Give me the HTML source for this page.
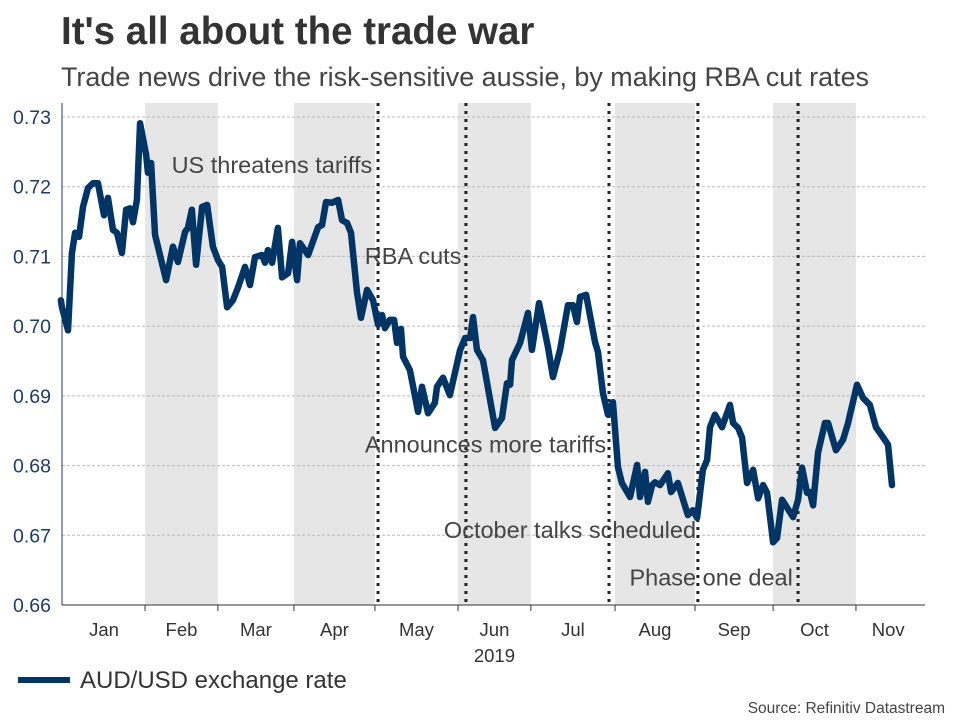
<!DOCTYPE html>
<html><head><meta charset="utf-8"><style>
body{margin:0;background:#fff;font-family:"Liberation Sans",sans-serif;}
svg text{font-family:"Liberation Sans",sans-serif;}
</style></head><body>
<svg id="chart" width="960" height="720" viewBox="0 0 960 720">
<rect width="960" height="720" fill="#fff"/>
<text x="61" y="44" font-size="38.5" font-weight="bold" fill="#333">It's all about the trade war</text>
<text x="61" y="86" font-size="26.5" fill="#444" textLength="808" lengthAdjust="spacingAndGlyphs">Trade news drive the risk-sensitive aussie, by making RBA cut rates</text>
<g id="bands"></g><g id="grid"></g><g id="events"></g><g id="series"></g><g id="axes"></g><g id="notes"></g>
<line x1="18" y1="680" x2="70" y2="680" stroke="#003566" stroke-width="6"/>
<text x="80" y="688" font-size="24" fill="#333">AUD/USD exchange rate</text>
<text x="945" y="713" font-size="15.5" fill="#444" text-anchor="end">Source: Refinitiv Datastream</text>
</svg>
<script>
const days=[-0.8,-0.4,1.9,3.4,4.6,6.1,7.6,9.5,11.4,13.3,15.6,17.1,19.0,20.5,22.4,24.0,25.5,26.6,28.1,29.3,31.6,32.3,33.5,35.0,39.2,41.8,43.7,46.4,47.5,49.0,50.6,52.9,54.8,57.0,58.9,60.5,62.4,64.6,66.5,69.2,71.1,73.0,75.7,76.8,77.9,79.5,81.7,83.3,85.6,87.1,89.0,90.1,93.2,97.0,98.5,100.0,102.3,104.6,106.1,108.0,109.5,111.8,113.3,115.6,117.9,119.8,121.3,122.4,124.3,125.9,127.0,128.5,129.3,131.9,135.0,136.5,138.8,141.4,142.2,144.5,147.1,151.0,152.9,154.8,155.9,157.4,159.7,164.3,166.9,168.8,170.0,170.7,173.8,176.8,178.3,181.0,184.4,186.3,189.0,192.0,193.9,195.4,196.6,198.9,202.3,203.4,205.3,207.2,209.1,211.0,212.5,215.6,218.3,219.4,221.3,222.4,224.0,225.1,227.0,230.0,231.2,233.8,237.6,239.5,241.1,243.3,244.9,246.0,247.9,250.6,253.6,254.8,256.7,258.2,260.1,262.4,264.3,266.2,267.7,270.0,271.5,273.4,277.6,279.5,281.0,282.9,284.0,285.2,287.1,289.7,290.9,293.9,296.6,298.5,301.9,304.2,306.8,309.1,310.6,313.7,315.2];
const rates=[0.7037,0.7027,0.6994,0.7105,0.7134,0.7128,0.7171,0.7198,0.7205,0.7205,0.7159,0.7184,0.7138,0.7134,0.7105,0.7167,0.7169,0.7149,0.7181,0.7291,0.7246,0.7220,0.7234,0.7131,0.7066,0.7114,0.7092,0.7135,0.7141,0.7167,0.7088,0.7171,0.7174,0.7114,0.7095,0.7085,0.7027,0.7037,0.7055,0.7085,0.7059,0.7099,0.7102,0.7091,0.7109,0.7091,0.7141,0.7070,0.7076,0.7121,0.7066,0.7119,0.7102,0.7142,0.7145,0.7178,0.7177,0.7181,0.7152,0.7148,0.7134,0.7048,0.7012,0.7052,0.7037,0.7002,0.7016,0.6997,0.7009,0.7009,0.6976,0.6996,0.6956,0.6937,0.6877,0.6913,0.6875,0.6890,0.6913,0.6926,0.6901,0.6966,0.6983,0.6983,0.7013,0.6966,0.6951,0.6854,0.6868,0.6918,0.6916,0.6951,0.6976,0.7019,0.6966,0.7033,0.6970,0.6927,0.6966,0.7030,0.7030,0.7006,0.7042,0.7045,0.6977,0.6963,0.6904,0.6873,0.6891,0.6798,0.6775,0.6755,0.6801,0.6755,0.6791,0.6748,0.6772,0.6776,0.6772,0.6789,0.6762,0.6775,0.6729,0.6736,0.6725,0.6794,0.6808,0.6855,0.6873,0.6855,0.6887,0.6861,0.6854,0.6840,0.6775,0.6794,0.6753,0.6772,0.6761,0.6690,0.6696,0.6751,0.6726,0.6751,0.6797,0.6761,0.6762,0.6743,0.6819,0.6861,0.6861,0.6822,0.6837,0.6861,0.6916,0.6897,0.6887,0.6855,0.6847,0.6830,0.6772];
const monthStarts=[0,31.2,58.9,87.8,118.6,150.2,177.9,209.9,240.3,270,301.5];
const monthLabels=["Jan","Feb","Mar","Apr","May","Jun","Jul","Aug","Sep","Oct","Nov"];
const monthEndLast=326;
const yTicks=[0.66,0.67,0.68,0.69,0.70,0.71,0.72,0.73];
const yTickLabels=["0.66","0.67","0.68","0.69","0.70","0.71","0.72","0.73"];
const eventDays=[119.8,153.2,207.6,241.4,279.5];
const noteDays=[117.6,151.5,206.5,240.7,277.5];
const noteRates=[0.7220,0.7089,0.6819,0.6696,0.6628];
const noteTexts=["US threatens tariffs","RBA cuts","Announces more tariffs","October talks scheduled","Phase one deal"];

const NS="http://www.w3.org/2000/svg";
const X0=63,PX=2.63,XR=925,YT=117,YB=605;
const xs=d=>X0+d*PX;
const ys=v=>YT+(0.73-v)/(0.07)*(YB-YT);
function mk(tag,attrs,parent){const e=document.createElementNS(NS,tag);for(const k in attrs)e.setAttribute(k,attrs[k]);document.getElementById(parent).appendChild(e);return e;}

for(let i=1;i<monthStarts.length;i+=2){
  const end=i+1<monthStarts.length?monthStarts[i+1]:monthEndLast;
  const r=mk('rect',{x:xs(monthStarts[i]),y:103,width:xs(end)-xs(monthStarts[i]),height:YB-103,fill:'#e6e6e6'},'bands');
  
  
}
yTicks.forEach((v,i)=>{
  const g=mk('line',{x1:62,x2:XR,y1:ys(v),y2:ys(v),stroke:'#bbb','stroke-width':1,'stroke-dasharray':'3,2'},'grid');
  
  
  const t=mk('text',{x:51,y:ys(v)+7,'font-size':19.5,fill:'#1f3b63','text-anchor':'end'},'axes');
  t.textContent=yTickLabels[i];
  
  
});
eventDays.forEach(d=>{
  const l=mk('line',{x1:xs(d),x2:xs(d),y1:103,y2:YB,stroke:'#222','stroke-width':3,'stroke-dasharray':'3,5'},'events');
  
  
});
const p=mk('polyline',{points:days.map((d,i)=>xs(d)+','+ys(rates[i])).join(' '),fill:'none',stroke:'#003566','stroke-width':6.5,'stroke-linejoin':'round','stroke-linecap':'round'},'series');


const ax=mk('line',{x1:62,x2:62,y1:103,y2:YB,stroke:'#1f3b63','stroke-width':1},'axes');


const bx=mk('line',{x1:62,x2:XR,y1:YB,y2:YB,stroke:'#333','stroke-width':1},'axes');


monthStarts.forEach((d,i)=>{
  if(i>0){const tk=mk('line',{x1:xs(d),x2:xs(d),y1:YB,y2:YB+6,stroke:'#333'},'axes');
  
  }
  const end=i+1<monthStarts.length?monthStarts[i+1]:monthEndLast;
  const t=mk('text',{x:(xs(d)+xs(end))/2,y:636,'font-size':18.5,fill:'#333','text-anchor':'middle'},'axes');
  t.textContent=monthLabels[i];
  
  
});
const yr=mk('text',{x:xs((monthStarts[5]+monthStarts[6])/2),y:662,'font-size':18.5,fill:'#333','text-anchor':'middle'},'axes');
yr.textContent='2019';


noteTexts.forEach((s,i)=>{
  const t=mk('text',{x:xs(noteDays[i]),y:ys(noteRates[i]),'font-size':23.5,fill:'#444','text-anchor':'end'},'notes');
  t.textContent=s;
  
  
});
</script>
</body></html>
